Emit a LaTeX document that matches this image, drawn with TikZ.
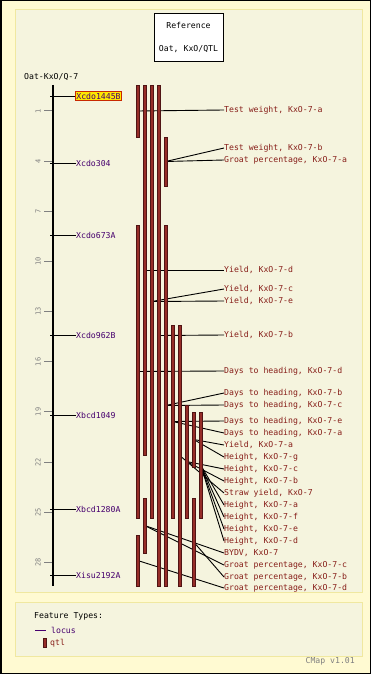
\documentclass[tikz,border=0pt]{standalone}
\usepackage{fontspec}
\setmainfont{DejaVu Sans Mono}
\definecolor{outerbg}{RGB}{255,250,210}
\definecolor{panelbg}{RGB}{245,244,222}
\definecolor{panelline}{RGB}{240,232,160}
\definecolor{qtlfill}{RGB}{150,45,40}
\definecolor{qtlline}{RGB}{80,20,20}
\definecolor{qtltext}{RGB}{135,30,25}
\definecolor{locustext}{RGB}{70,0,110}
\definecolor{hilite}{RGB}{255,232,0}
\definecolor{hiliteline}{RGB}{200,40,0}
\tikzset{
  qtlbar/.style={fill=qtlfill, draw=qtlline, line width=0.8bp},
  qtllabel/.style={anchor=west, inner sep=0pt, text=qtltext},
  locuslabel/.style={anchor=west, inner sep=0pt, text=locustext},
  link/.style={line width=0.9bp}
}

\begin{document}
\begin{tikzpicture}[x=1bp, y=-1bp, font=\fontsize{8.2}{9}\selectfont]
  \useasboundingbox (0,0) rectangle (371,674);
  % background and panels
  \fill[outerbg] (0,0) rectangle (371,674);
  \draw[line width=1.5bp] (0.75,0.75) rectangle (370.25,673.25);
  \filldraw[fill=panelbg, draw=panelline, line width=1bp] (15,10) rectangle (362,592);
  \filldraw[fill=panelbg, draw=panelline, line width=1bp] (15,602) rectangle (362,656);

  \node (refbox) [draw, fill=white, line width=0.9bp, minimum width=69bp, minimum height=48bp, align=center] at (188.5,37) {Reference\\[14bp]Oat, KxO/QTL};
  \node (mapname) [anchor=west, inner sep=0pt] at (24,77) {Oat-KxO/Q-7};

  % axis and ticks
  \draw[line width=2bp] (52.5,85) -- (52.5,586);
  \foreach \v in {1,4,...,28} {
    \draw[gray, line width=1bp] (44,{111+(\v-1)*16.72}) -- (52,{111+(\v-1)*16.72});
    \node (tick\v) [gray, rotate=90, inner sep=0pt, font=\fontsize{7}{8}\selectfont] at (38,{111+(\v-1)*16.72}) {\v};
  }

  % loci
  \node (l1) [locuslabel, fill=hilite, draw=hiliteline, inner sep=1bp, line width=0.8bp] at (75,96) {Xcdo1445B};
  \node (l2) [locuslabel] at (76,163) {Xcdo304};
  \node (l3) [locuslabel] at (76,235) {Xcdo673A};
  \node (l4) [locuslabel] at (76,335) {Xcdo962B};
  \node (l5) [locuslabel] at (76,415) {Xbcd1049};
  \node (l6) [locuslabel] at (76,509) {Xbcd1280A};
  \node (l7) [locuslabel] at (76,575) {Xisu2192A};
  \draw[link] (50,96) -- (l1.west);
  \draw[link] (50,163) -- (l2.west);
  \draw[link] (50,235) -- (l3.west);
  \draw[link] (50,335) -- (l4.west);
  \draw[link] (50,415) -- (l5.west);
  \draw[link] (50,509) -- (l6.west);
  \draw[link] (50,575) -- (l7.west);

  % qtl labels
  \node (twa) [qtllabel] at (224,110) {Test weight, KxO-7-a};
  \node (twb) [qtllabel] at (224,148) {Test weight, KxO-7-b};
  \node (gpa) [qtllabel] at (224,160) {Groat percentage, KxO-7-a};
  \node (yd) [qtllabel] at (224,270) {Yield, KxO-7-d};
  \node (yc) [qtllabel] at (224,289) {Yield, KxO-7-c};
  \node (ye) [qtllabel] at (224,301) {Yield, KxO-7-e};
  \node (yb) [qtllabel] at (224,335) {Yield, KxO-7-b};
  \node (dhd) [qtllabel] at (224,371) {Days to heading, KxO-7-d};
  \node (dhb) [qtllabel] at (224,393) {Days to heading, KxO-7-b};
  \node (dhc) [qtllabel] at (224,405) {Days to heading, KxO-7-c};
  \node (dhe) [qtllabel] at (224,421) {Days to heading, KxO-7-e};
  \node (dha) [qtllabel] at (224,433) {Days to heading, KxO-7-a};
  \node (ya) [qtllabel] at (224,445) {Yield, KxO-7-a};
  \node (hg) [qtllabel] at (224,457) {Height, KxO-7-g};
  \node (hc) [qtllabel] at (224,469) {Height, KxO-7-c};
  \node (hb) [qtllabel] at (224,481) {Height, KxO-7-b};
  \node (sy) [qtllabel] at (224,493) {Straw yield, KxO-7};
  \node (ha) [qtllabel] at (224,505) {Height, KxO-7-a};
  \node (hf) [qtllabel] at (224,517) {Height, KxO-7-f};
  \node (he) [qtllabel] at (224,529) {Height, KxO-7-e};
  \node (hd) [qtllabel] at (224,541) {Height, KxO-7-d};
  \node (bydv) [qtllabel] at (224,553) {BYDV, KxO-7};
  \node (gpc) [qtllabel] at (224,565) {Groat percentage, KxO-7-c};
  \node (gpb) [qtllabel] at (224,577) {Groat percentage, KxO-7-b};
  \node (gpd) [qtllabel] at (224,588) {Groat percentage, KxO-7-d};

  % bar midpoints
  \coordinate (b1) at (137.7,111);
  \coordinate (b2) at (165.7,161.5);
  \coordinate (b3) at (144.7,270);
  \coordinate (b4) at (151.7,301.5);
  \coordinate (b5) at (158.7,335.5);
  \coordinate (b6) at (137.7,371.5);
  \coordinate (b7) at (165.7,405.5);
  \coordinate (b8) at (172.7,421.5);
  \coordinate (b9) at (179.7,455.5);
  \coordinate (b10) at (186.7,461.5);
  \coordinate (b11) at (193.7,439.5);
  \coordinate (b12) at (200.7,465);
  \coordinate (b13) at (193.7,542);
  \coordinate (b14) at (144.7,525.5);
  \coordinate (b15) at (137.7,560.5);

  % connectors (under the bars)
  \draw[link] (b1) -- (twa.west);
  \draw[link] (b2) -- (twb.west);
  \draw[link] (b2) -- (gpa.west);
  \draw[link] (b3) -- (yd.west);
  \draw[link] (b4) -- (yc.west);
  \draw[link] (b4) -- (ye.west);
  \draw[link] (b5) -- (yb.west);
  \draw[link] (b6) -- (dhd.west);
  \draw[link] (b7) -- (dhb.west);
  \draw[link] (b7) -- (dhc.west);
  \draw[link] (b8) -- (dhe.west);
  \draw[link] (b8) -- (dha.west);
  \draw[link] (b11) -- (ya.west);
  \draw[link] (b11) -- (hg.west);
  \draw[link] (b10) -- (hc.west);
  \draw[link] (b10) -- (hb.west);
  \draw[link] (b9) -- (sy.west);
  \draw[link] (b12) -- (ha.west);
  \draw[link] (b12) -- (hf.west);
  \draw[link] (b12) -- (he.west);
  \draw[link] (b12) -- (hd.west);
  \draw[link] (b14) -- (bydv.west);
  \draw[link] (b14) -- (gpc.west);
  \draw[link] (b13) -- (gpb.west);
  \draw[link] (b15) -- (gpd.west);

  % qtl bars
  \draw[qtlbar] (136.2,85) rectangle (139.2,137);
  \draw[qtlbar] (136.2,225) rectangle (139.2,518);
  \draw[qtlbar] (136.2,535) rectangle (139.2,586);
  \draw[qtlbar] (143.2,85) rectangle (146.2,455);
  \draw[qtlbar] (143.2,498) rectangle (146.2,553);
  \draw[qtlbar] (150.2,85) rectangle (153.2,518);
  \draw[qtlbar] (157.2,85) rectangle (160.2,586);
  \draw[qtlbar] (164.2,137) rectangle (167.2,186);
  \draw[qtlbar] (164.2,225) rectangle (167.2,586);
  \draw[qtlbar] (171.2,325) rectangle (174.2,518);
  \draw[qtlbar] (178.2,325) rectangle (181.2,586);
  \draw[qtlbar] (185.2,405) rectangle (188.2,518);
  \draw[qtlbar] (192.2,412) rectangle (195.2,467);
  \draw[qtlbar] (192.2,498) rectangle (195.2,586);
  \draw[qtlbar] (199.2,412) rectangle (202.2,518);

  % legend
  \node (legtitle) [anchor=west, inner sep=0pt] at (34,616) {Feature Types:};
  \node (leglocus) [locuslabel] at (51,630) {locus};
  \coordinate (legline) at (35,630);
  \draw[locustext, line width=1bp] (legline) -- ++(11,0);
  \draw[qtlbar] (43,638) rectangle (46,647);
  \node (legqtl) [qtllabel] at (50,643) {qtl};
  \node (version) [anchor=east, inner sep=0pt, gray] at (355,661) {CMap v1.01};
\end{tikzpicture}
\end{document}
